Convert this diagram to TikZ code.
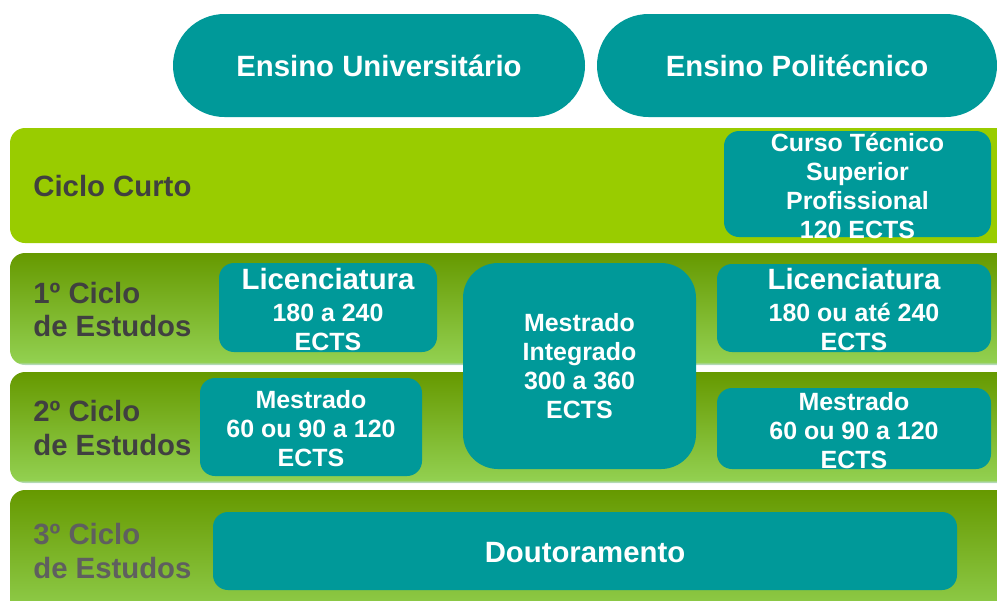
\documentclass[tikz,border=0pt]{standalone}
\usepackage{fontspec}
\setmainfont{Liberation Sans}
\definecolor{kteal}{HTML}{009999}
\definecolor{klime}{HTML}{99CC00}
\definecolor{kolive}{HTML}{669900}
\definecolor{klgreen}{HTML}{92D050}
\definecolor{kfringe}{HTML}{C2DCE2}
\definecolor{kdgray}{HTML}{404040}
\definecolor{kmgray}{HTML}{5F5F5F}
\pgfdeclareverticalshading{kband}{100bp}{color(0bp)=(kfringe); color(25bp)=(kfringe); color(26.4bp)=(klgreen); color(75bp)=(kolive); color(100bp)=(kolive)}
\newcommand\kbig{\bfseries\fontsize{16.7}{18.8}\selectfont}
\newcommand\ksmall{\bfseries\fontsize{14.2}{16.6}\selectfont}
\begin{document}
\begin{tikzpicture}[x=0.02cm,y=-0.02cm,
  pill/.style={fill=kteal,text=white,rounded corners=1.03cm,inner sep=0pt,font=\kbig},
  box/.style={fill=kteal,rounded corners=0.3cm,inner sep=0pt},
  boxtext/.style={text=white,align=center,inner sep=0pt,font=\ksmall},
  lbl/.style={anchor=west,align=left,inner sep=0pt,font=\kbig}]
\useasboundingbox (0,0) rectangle (997,600);
\clip (0,0) rectangle (997,600);
% bands
\fill[klime,rounded corners=0.3cm] (10,128) rectangle (1017,243);
\foreach \ya/\yb in {253/365,372/483}{\shade[shading=kband,rounded corners=0.3cm](10,\ya) rectangle (1017,\yb);}
\shade[top color=kolive,bottom color=klgreen,rounded corners=0.3cm](10,490) rectangle (1017,620);
% row labels
\node[lbl,text=kdgray] (lcurto) at (33,186) {Ciclo Curto};
\foreach \nm/\yc/\lb/\cl in {lc1/309.5/1º/kdgray,lc2/428/2º/kdgray,lc3/551/3º/kmgray}{\node[lbl,text=\cl] (\nm) at (33,\yc) {\lb{} Ciclo\\de Estudos};}
% top
\node[pill,minimum width={412*0.02cm},minimum height={103*0.02cm}] (uni) at (379,65.5) {Ensino Universitário};
\node[pill,minimum width={400*0.02cm},minimum height={103*0.02cm}] (poli) at (797,65.5) {Ensino Politécnico};
% boxes
\foreach \nm/\xa/\ya/\xb/\yb/\txt in {cts/724/131/991/237/{Curso Técnico\\Superior\\Profissional\\120 ECTS},
  lic1/219/263/437/352/{{\kbig Licenciatura}\\[1.5pt]180 a 240\\ECTS},
  lic2/717/264/991/352/{{\kbig Licenciatura}\\[1.5pt]180 ou até 240\\ECTS},
  mes1/200/378/422/476/{Mestrado\\60 ou 90 a 120\\ECTS},
  mes2/717/388/991/469/{Mestrado\\60 ou 90 a 120\\ECTS},
  dout/213/512/957/590/{{\kbig Doutoramento}}}
  {\node[box,minimum width={(\xb-\xa)*0.02cm},minimum height={(\yb-\ya)*0.02cm}] (\nm) at ({(\xa+\xb)/2},{(\ya+\yb)/2}) {};
   \node[boxtext] (\nm-t) at ([yshift=-1pt]\nm.center) {\txt};}
\node[box,rounded corners=0.7cm,minimum width={233*0.02cm},minimum height={206*0.02cm}] (mi) at (579.5,366) {};
\node[boxtext] (mi-t) at (mi) {Mestrado\\Integrado\\300 a 360\\ECTS};
\end{tikzpicture}
\end{document}
